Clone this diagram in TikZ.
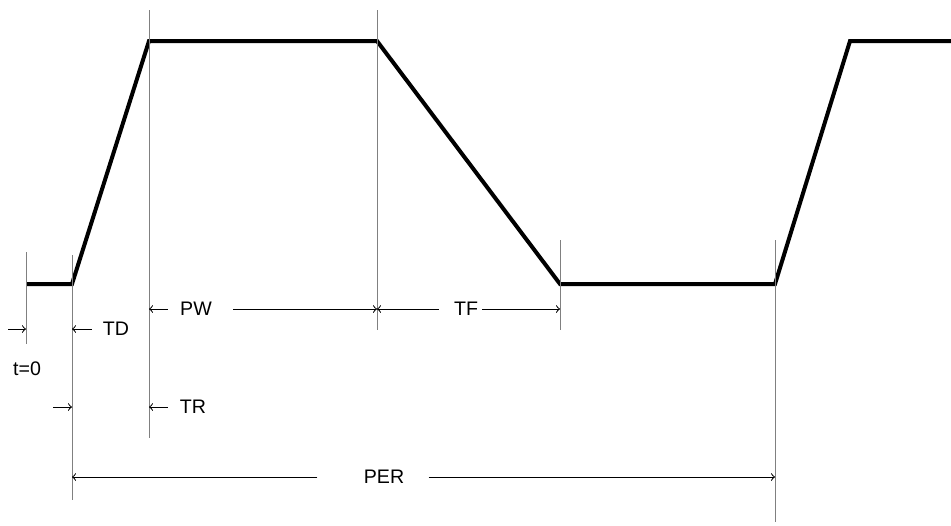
\documentclass[tikz,border=0pt]{standalone}
\usepackage{fontspec}
\setmainfont{Liberation Sans}
\usetikzlibrary{positioning}

\begin{document}
\begin{tikzpicture}[x=0.5pt,y=-0.5pt,
wave/.style={line width=2pt,line join=miter},
guide/.style={draw=gray,line width=0.5pt},
dim/.style={line width=0.5pt,->},
lbl/.style={inner sep=0pt,font=\fontsize{9.8}{12}\selectfont}]
\useasboundingbox (0,0) rectangle (951,525);

% corners of the pulse
\coordinate (w0) at (26,284);
\coordinate (w1) at (72,284);
\coordinate (w2) at (149,41);
\coordinate (w3) at (377,41);
\coordinate (w4) at (560,284);
\coordinate (w5) at (775,284);
\coordinate (w6) at (850,41);
\coordinate (w7) at (951,41);
\draw [wave] (w0)--(w1)--(w2)--(w3)--(w4)--(w5)--(w6)--(w7);

% thin marker lines
\foreach \n/\xx/\top/\bot in {0/26/252/344,1/72/255/500,2/149/10/438,3/377/10/330,4/560/240/330,5/775/240/522}
{\coordinate (g\n-top) at (\xx,\top);
 \coordinate (g\n-bot) at (\xx,\bot);
 \draw [guide] (g\n-top)--(g\n-bot);}

% labels
\node [lbl] (t0) at (27,369) {t=0};
\node [lbl] (TD) at (116,329) {TD};
\node [lbl] (TR) at (193,407) {TR};
\node [lbl] (PW) at (196,309) {PW};
\node [lbl] (TF) at (466,309) {TF};
\node [lbl] (PER) at (384,477) {PER};

% free ends of the short arrows
\coordinate (t0-start) at (8,329);
\coordinate (td-start) at (53,407);

\draw [dim] (t0-start)--(t0-start -| g0-top);
\draw [dim] (td-start)--(td-start -| g1-top);
\draw [dim,shorten <=5.5pt] (TD.west)--(TD.west -| g1-top);
\draw [dim,shorten <=6pt] (TR.west)--(TR.west -| g2-top);
\draw [dim,shorten <=6pt] (PW.west)--(PW.west -| g2-top);
\draw [dim,shorten <=10.5pt] (PW.east)--(PW.east -| g3-top);
\draw [dim,shorten <=7.5pt] (TF.west)--(TF.west -| g3-top);
\draw [dim,shorten <=2pt] (TF.east)--(TF.east -| g4-top);
\draw [dim,shorten <=23pt] (PER.west)--(PER.west -| g1-top);
\draw [dim,shorten <=12pt] (PER.east)--(PER.east -| g5-top);
\end{tikzpicture}
\end{document}
